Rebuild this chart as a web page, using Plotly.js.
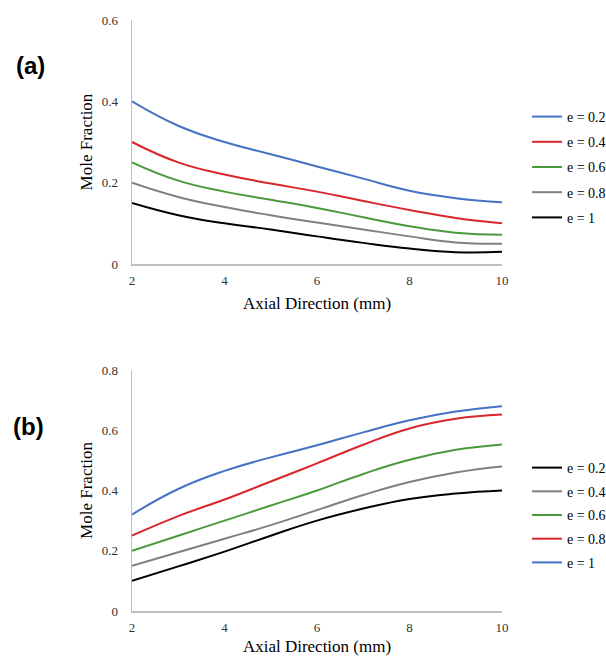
<!DOCTYPE html>
<html>
<head>
<meta charset="utf-8">
<script src="https://cdn.plot.ly/plotly-3.0.1.min.js"></script>
<style>
  html, body { margin: 0; padding: 0; background: #fff; }
  #chart { width: 606px; height: 656px; }
</style>
</head>
<body>
<div id="chart"></div>
<script>
// Axial positions (mm)
var axial = [2, 3, 4, 5, 6, 7, 8, 9, 10];

// Panel (a) series
var a_labels = ["e = 0.2", "e = 0.4", "e = 0.6", "e = 0.8", "e = 1"];
var a_e02 = [0.40, 0.34, 0.30, 0.27, 0.24, 0.21, 0.18, 0.162, 0.152];
var a_e04 = [0.30, 0.25, 0.22, 0.198, 0.178, 0.155, 0.133, 0.113, 0.10];
var a_e06 = [0.25, 0.205, 0.178, 0.158, 0.138, 0.115, 0.093, 0.077, 0.072];
var a_e08 = [0.20, 0.165, 0.14, 0.12, 0.102, 0.085, 0.068, 0.053, 0.05];
var a_e1  = [0.15, 0.12, 0.10, 0.085, 0.068, 0.052, 0.038, 0.029, 0.03];

// Panel (b) series
var b_labels = ["e = 0.2", "e = 0.4", "e = 0.6", "e = 0.8", "e = 1"];
var b_e02 = [0.10, 0.148, 0.197, 0.25, 0.30, 0.34, 0.372, 0.39, 0.40];
var b_e04 = [0.15, 0.195, 0.24, 0.285, 0.335, 0.385, 0.428, 0.46, 0.48];
var b_e06 = [0.20, 0.25, 0.30, 0.35, 0.40, 0.455, 0.502, 0.535, 0.553];
var b_e08 = [0.25, 0.315, 0.37, 0.43, 0.49, 0.552, 0.606, 0.638, 0.652];
var b_e1  = [0.32, 0.405, 0.465, 0.51, 0.55, 0.593, 0.633, 0.662, 0.68];

var BLUE = "#4472C4", RED = "#D9262B", GREEN = "#4A9A3C", GRAY = "#808080", BLACK = "#000000";

var aSeries = [a_e02, a_e04, a_e06, a_e08, a_e1];
var aColors = [BLUE, RED, GREEN, GRAY, BLACK];
var bSeries = [b_e02, b_e04, b_e06, b_e08, b_e1];
var bColors = [BLACK, GRAY, GREEN, RED, BLUE];

var traces = [];
aSeries.forEach(function (s, i) {
  traces.push({
    x: axial, y: s, type: "scatter", mode: "lines",
    name: a_labels[i], legendgroup: "a" + i, legend: "legend",
    xaxis: "x", yaxis: "y",
    line: { color: aColors[i], width: 2, shape: "spline", smoothing: 1.3 }
  });
});
bSeries.forEach(function (s, i) {
  traces.push({
    x: axial, y: s, type: "scatter", mode: "lines",
    name: b_labels[i], legendgroup: "b" + i, legend: "legend2",
    xaxis: "x2", yaxis: "y2",
    line: { color: bColors[i], width: 2, shape: "spline", smoothing: 1.3 }
  });
});

var serif = "Liberation Serif";
var axisCommon = {
  showgrid: false, zeroline: false,
  showline: true, linecolor: "#bfbfbf", linewidth: 1.5,
  ticks: "", tickfont: { family: serif, size: 13, color: "#333333" },
  fixedrange: true
};

function xa(anchor) {
  return Object.assign({}, axisCommon, {
    range: [2, 10], tickvals: [2, 4, 6, 8, 10], anchor: anchor,
    ticklabelstandoff: 4,
    title: { text: "Axial Direction (mm)", font: { family: serif, size: 17, color: "#000" }, standoff: 10 }
  });
}
function ya(anchor, max, dom) {
  return Object.assign({}, axisCommon, {
    range: [0, max], dtick: 0.2, tick0: 0, anchor: anchor, domain: dom,
    ticklabelstandoff: 10,
    title: { text: "Mole Fraction", font: { family: serif, size: 17, color: "#000" }, standoff: 4 }
  });
}

var layout = {
  width: 606, height: 656,
  margin: { l: 132, r: 104, t: 20, b: 45 },
  paper_bgcolor: "#fff", plot_bgcolor: "#fff",
  showlegend: true,
  xaxis: xa("y"),
  yaxis: ya("x", 0.6, [0.5871, 1]),
  xaxis2: xa("y2"),
  yaxis2: ya("x2", 0.8, [0, 0.4078]),
  legend: {
    xref: "container", yref: "container",
    x: 527 / 606, xanchor: "left", y: 1 - 101 / 656, yanchor: "top",
    traceorder: "grouped", tracegroupgap: 4,
    font: { family: serif, size: 14, color: "#000" },
    bgcolor: "rgba(0,0,0,0)", borderwidth: 0
  },
  legend2: {
    xref: "container", yref: "container",
    x: 527 / 606, xanchor: "left", y: 1 - 452 / 656, yanchor: "top",
    traceorder: "grouped", tracegroupgap: 2.5,
    font: { family: serif, size: 14, color: "#000" },
    bgcolor: "rgba(0,0,0,0)", borderwidth: 0
  },
  annotations: [
    { text: "<b>(a)</b>", xref: "paper", yref: "paper", x: (30 - 132) / 370, y: (611 - 65) / 591,
      xanchor: "center", yanchor: "middle", showarrow: false,
      font: { family: "Liberation Sans", size: 24, color: "#000" } },
    { text: "<b>(b)</b>", xref: "paper", yref: "paper", x: (28 - 132) / 370, y: (611 - 426) / 591,
      xanchor: "center", yanchor: "middle", showarrow: false,
      font: { family: "Liberation Sans", size: 24, color: "#000" } }
  ]
};

Plotly.newPlot("chart", traces, layout, { displayModeBar: false, staticPlot: true });
</script>
</body>
</html>
